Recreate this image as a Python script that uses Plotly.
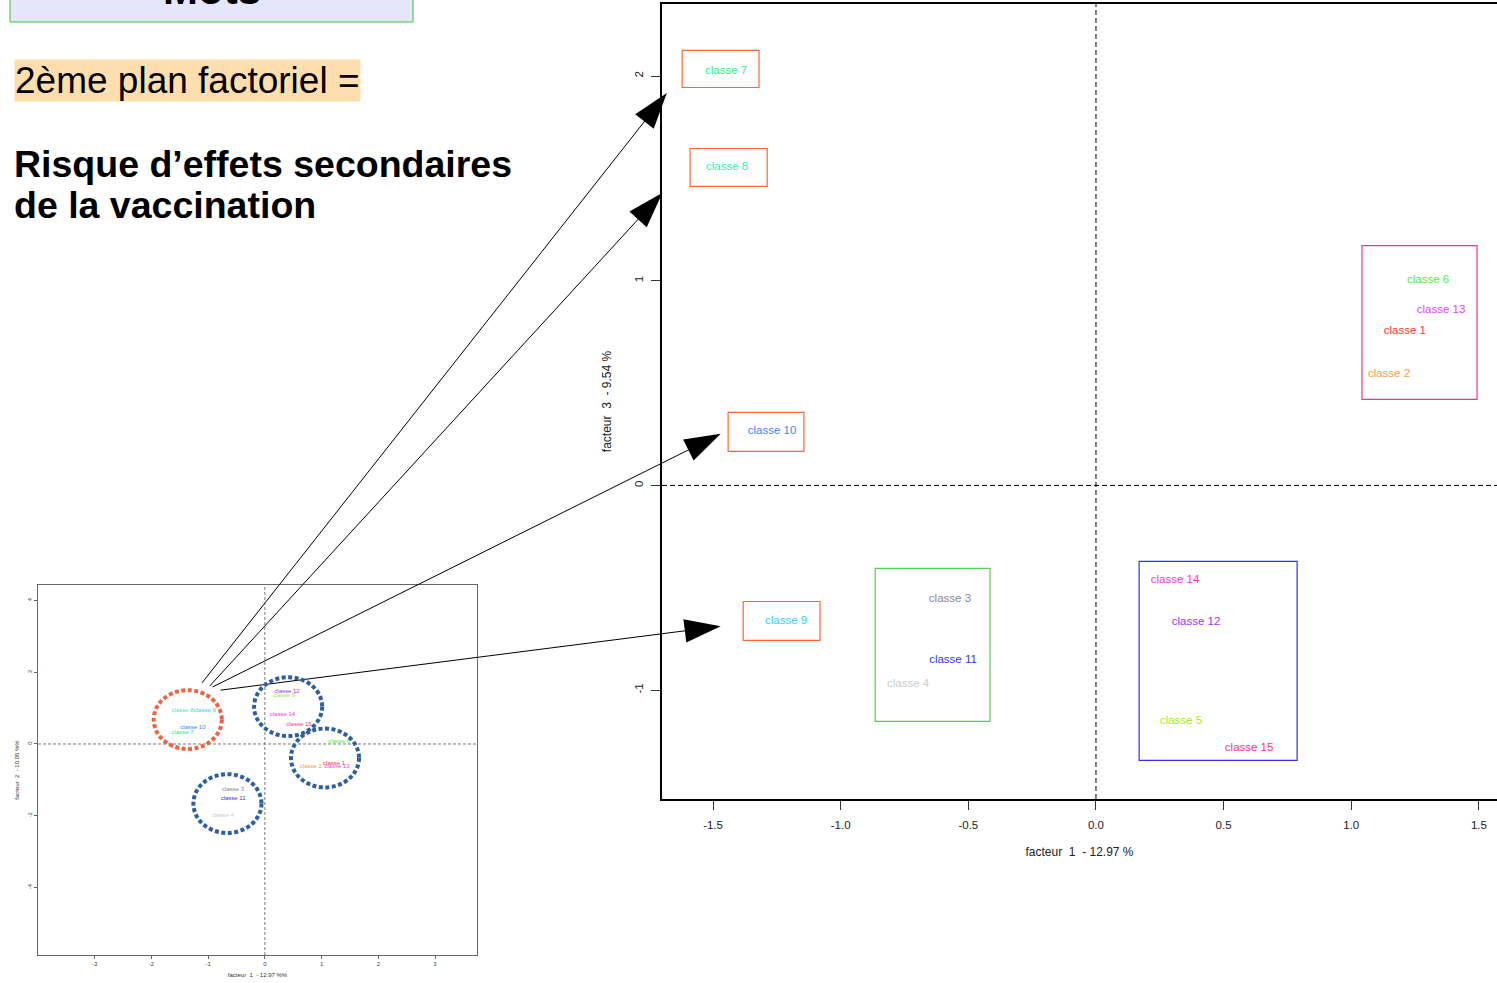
import plotly.graph_objects as go

FONT = "Liberation Sans"

# ---- colours of the 15 classes ----
class_colors = {
    "classe 1": "#FF3333", "classe 2": "#FF9944", "classe 3": "#888888",
    "classe 4": "#CCCCCC", "classe 5": "#99EE33", "classe 6": "#55EE33",
    "classe 7": "#33EE77", "classe 8": "#33EEBB", "classe 9": "#33CCFF",
    "classe 10": "#3388FF", "classe 11": "#3333FF", "classe 12": "#9933FF",
    "classe 13": "#DD44FF", "classe 14": "#FF33CC", "classe 15": "#FF3380",
}

# ---- small plot : factor 1 x factor 2 ----
small_labels = ["classe 8", "classe 9", "classe 10", "classe 7", "classe 12", "classe 5",
                "classe 14", "classe 15", "classe 6", "classe 1", "classe 13", "classe 2",
                "classe 3", "classe 11", "classe 4"]
small_f1 = [-1.45, -1.06, -1.27, -1.45, 0.39, 0.34, 0.31, 0.60, 1.31, 1.22, 1.27, 0.81, -0.56, -0.56, -0.74]
small_f2 = [0.92, 0.92, 0.45, 0.31, 1.45, 1.34, 0.81, 0.53, 0.06, -0.53, -0.64, -0.64, -1.28, -1.53, -1.98]
small_xticks = [-3, -2, -1, 0, 1, 2, 3]
small_yticks = [-4, -2, 0, 2, 4]

# dotted ellipses around the groups (centre, radii)
ell_f1 = [-1.36, 0.41, 1.06, -0.66]
ell_f2 = [0.68, 1.04, -0.39, -1.66]
ell_r1 = [0.60, 0.60, 0.60, 0.60]
ell_r2 = [0.82, 0.82, 0.82, 0.82]
ell_colors = ["#F26144", "#2E60A0", "#2E60A0", "#2E60A0"]

# ---- big plot : factor 1 x factor 3 ----
big_labels = ["classe 7", "classe 8", "classe 10", "classe 9", "classe 3", "classe 11", "classe 4",
              "classe 14", "classe 12", "classe 5", "classe 15", "classe 6", "classe 13",
              "classe 1", "classe 2"]
big_f1 = [-1.449, -1.445, -1.269, -1.214, -0.572, -0.560, -0.736,
          0.310, 0.392, 0.333, 0.600, 1.301, 1.352, 1.210, 1.148]
big_f3 = [2.022, 1.553, 0.264, -0.664, -0.557, -0.855, -0.972,
          -0.464, -0.669, -1.153, -1.285, 1.001, 0.855, 0.752, 0.542]
big_xticks = [-1.5, -1.0, -0.5, 0.0, 0.5, 1.0, 1.5]
big_yticks = [-1, 0, 1, 2]

# frames around groups
box_x0 = [-1.621, -1.590, -1.441, -1.382, -0.865, 0.169, 1.042]
box_x1 = [-1.320, -1.288, -1.144, -1.081, -0.415, 0.788, 1.493]
box_y0 = [1.944, 1.461, 0.166, -0.757, -1.153, -1.343, 0.420]
box_y1 = [2.125, 1.646, 0.357, -0.567, -0.405, -0.371, 1.172]
box_colors = ["#FF6633", "#FF6633", "#FF6633", "#FF6633", "#55CC55", "#3333EE", "#EE3399"]

# arrows from the small plot (f1, f2) to the big plot (f1, f3)
arrow_tail_f1 = [-1.11, -0.97, -0.92, -0.78]
arrow_tail_f2 = [1.70, 1.62, 1.59, 1.50]
arrow_head_f1 = [-1.681, -1.698, -1.470, -1.470]
arrow_head_f3 = [1.917, 1.430, 0.252, -0.688]

W, H = 1497, 983
small_xdom, small_xr = [38 / W, 477 / W], [-4.00, 3.74]
small_ydom, small_yr = [1 - 955 / H, 1 - 585 / H], [-5.88, 4.43]
big_xdom, big_xr = [662 / W, 1.0], [-1.70, 1.571]
big_ydom, big_yr = [1 - 799 / H, 1 - 4 / H], [-1.532, 2.352]


def to_paper(v, dom, rng):
    return dom[0] + (v - rng[0]) / (rng[1] - rng[0]) * (dom[1] - dom[0])


fig = go.Figure()

fig.add_trace(go.Scatter(
    x=small_f1, y=small_f2, mode="text", text=small_labels,
    textfont=dict(family=FONT, size=6, color=[class_colors[c] for c in small_labels]),
    xaxis="x", yaxis="y", hoverinfo="skip"))

fig.add_trace(go.Scatter(
    x=big_f1, y=big_f3, mode="text", text=big_labels,
    textfont=dict(family=FONT, size=11.5, color=[class_colors[c] for c in big_labels]),
    xaxis="x2", yaxis="y2", hoverinfo="skip"))

# arrows drawn on an overlay axis in paper units
for i in range(len(arrow_tail_f1)):
    xs = [to_paper(arrow_tail_f1[i], small_xdom, small_xr), to_paper(arrow_head_f1[i], big_xdom, big_xr)]
    ys = [to_paper(arrow_tail_f2[i], small_ydom, small_yr), to_paper(arrow_head_f3[i], big_ydom, big_yr)]
    fig.add_trace(go.Scatter(
        x=xs, y=ys, mode="lines+markers", xaxis="x3", yaxis="y3",
        line=dict(color="black", width=1),
        marker=dict(symbol="arrow", size=[0, 38], angleref="previous", color="black",
                    opacity=1, line=dict(width=0)),
        hoverinfo="skip"))

shapes = []
# small plot : dashed axes at 0
shapes.append(dict(type="line", xref="x", yref="y domain", x0=0, x1=0, y0=0, y1=1,
                   line=dict(color="#555", width=0.8, dash="3px,2px")))
shapes.append(dict(type="line", xref="x domain", yref="y", x0=0, x1=1, y0=0, y1=0,
                   line=dict(color="#555", width=0.8, dash="3px,2px")))
for i in range(len(ell_f1)):
    shapes.append(dict(type="circle", xref="x", yref="y",
                       x0=ell_f1[i] - ell_r1[i], x1=ell_f1[i] + ell_r1[i],
                       y0=ell_f2[i] - ell_r2[i], y1=ell_f2[i] + ell_r2[i],
                       line=dict(color=ell_colors[i], width=4, dash="4px,2.5px")))
# big plot : dashed axes at 0
shapes.append(dict(type="line", xref="x2", yref="y2 domain", x0=0, x1=0, y0=0, y1=1,
                   line=dict(color="black", width=1, dash="5px,3px")))
shapes.append(dict(type="line", xref="x2 domain", yref="y2", x0=0, x1=1, y0=0, y1=0,
                   line=dict(color="black", width=1, dash="5px,3px")))
for i in range(len(box_x0)):
    shapes.append(dict(type="rect", xref="x2", yref="y2",
                       x0=box_x0[i], x1=box_x1[i], y0=box_y0[i], y1=box_y1[i],
                       line=dict(color=box_colors[i], width=1.2)))
# slide title box "Mots"
shapes.append(dict(type="rect", xref="paper", yref="paper", x0=10 / W, x1=413 / W,
                   y0=1 - 22 / H, y1=1.05, fillcolor="#E6E6FA",
                   line=dict(color="#33CC33", width=1), layer="below"))

annotations = [
    dict(text="<b>Mots</b>", x=212 / W, y=1 + 10 / H, xref="paper", yref="paper",
         xanchor="center", yanchor="middle", showarrow=False,
         font=dict(family=FONT, size=42, color="black")),
    dict(text="2ème plan factoriel =", x=14 / W, y=1 - 80 / H, xref="paper", yref="paper",
         xanchor="left", yanchor="middle", showarrow=False, bgcolor="#FFDEAD", borderpad=0,
         font=dict(family=FONT, size=37, color="black")),
    dict(text="<b>Risque d’effets secondaires</b>", x=12 / W, y=1 - 164 / H,
         xref="paper", yref="paper", xanchor="left", yanchor="middle", showarrow=False,
         font=dict(family=FONT, size=37.5, color="black")),
    dict(text="<b>de la vaccination</b>", x=12 / W, y=1 - 205 / H,
         xref="paper", yref="paper", xanchor="left", yanchor="middle", showarrow=False,
         font=dict(family=FONT, size=37.5, color="black")),
]

small_axis = dict(showline=True, linecolor="#666", linewidth=1, mirror=True, ticks="outside",
                  ticklen=3, tickcolor="#666", showgrid=False, zeroline=False,
                  tickfont=dict(family=FONT, size=6, color="#444"))
big_axis = dict(showline=True, linecolor="black", linewidth=1.5, ticks="outside",
                ticklen=9, tickcolor="#333", showgrid=False, zeroline=False,
                tickfont=dict(family=FONT, size=11.5, color="#222"))

fig.update_layout(
    width=W, height=H, autosize=False, template="none",
    margin=dict(l=0, r=0, t=0, b=0),
    paper_bgcolor="white", plot_bgcolor="rgba(0,0,0,0)",
    showlegend=False, font=dict(family=FONT),
    xaxis=dict(small_axis, domain=small_xdom, range=small_xr, anchor="y",
               tickvals=small_xticks, ticktext=[str(v) for v in small_xticks],
               title=dict(text="facteur  1  - 12.97 %%", standoff=6,
                          font=dict(family=FONT, size=6, color="#333"))),
    yaxis=dict(small_axis, domain=small_ydom, range=small_yr, anchor="x",
               tickvals=small_yticks, ticktext=[str(v) for v in small_yticks], tickangle=-90,
               title=dict(text="facteur  2  - 10.05 %%", standoff=6,
                          font=dict(family=FONT, size=6, color="#333"))),
    xaxis2=dict(big_axis, domain=big_xdom, range=big_xr, anchor="y2", mirror=True,
                tickvals=big_xticks, ticktext=[f"{v:.1f}" for v in big_xticks],
                ticklabelstandoff=5,
                title=dict(text="facteur  1  - 12.97 %", standoff=18,
                           font=dict(family=FONT, size=12, color="#222"))),
    yaxis2=dict(big_axis, domain=big_ydom, range=big_yr, anchor="x2",
                tickvals=big_yticks, ticktext=[str(v) for v in big_yticks],
                tickangle=-90, ticklabelstandoff=4,
                title=dict(text="facteur  3  - 9.54 %", standoff=18,
                           font=dict(family=FONT, size=12, color="#222"))),
    xaxis3=dict(domain=[0, 1], range=[0, 1], visible=False, anchor="y3", fixedrange=True),
    yaxis3=dict(domain=[0, 1], range=[0, 1], visible=False, anchor="x3", fixedrange=True),
    shapes=shapes,
    annotations=annotations,
)

# the page's default body margin would offset the slide by 8px
fig.write_html("out.html", config={"displayModeBar": False},
               post_script="document.body.style.margin='0';document.body.style.overflow='hidden';")
